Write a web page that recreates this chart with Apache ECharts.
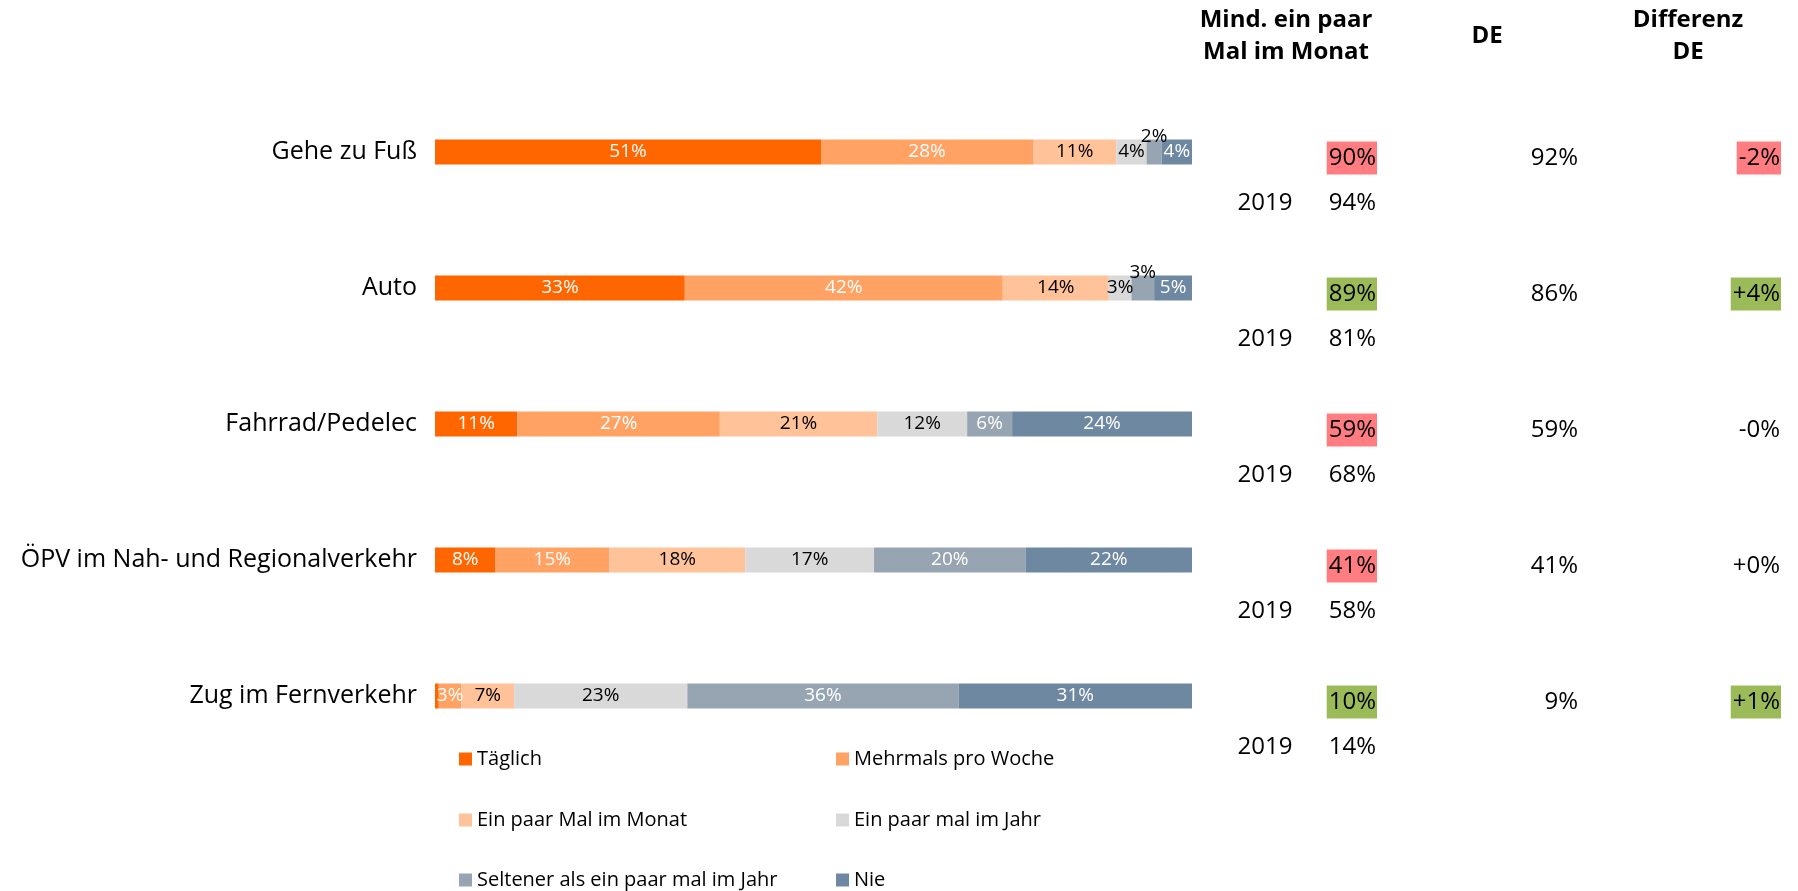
<!DOCTYPE html>
<html>
<head>
<meta charset="utf-8">
<script src="https://cdn.jsdelivr.net/npm/echarts@6/dist/echarts.min.js"></script>
<style>
  html, body { margin: 0; padding: 0; background: #fff; }
  #chart { width: 1798px; height: 891px; }
</style>
</head>
<body>
<div id="chart"></div>
<script>
const categories = ['Gehe zu Fuß', 'Auto', 'Fahrrad/Pedelec', 'ÖPV im Nah- und Regionalverkehr', 'Zug im Fernverkehr'];
const seriesNames = ['Täglich', 'Mehrmals pro Woche', 'Ein paar Mal im Monat', 'Ein paar mal im Jahr', 'Seltener als ein paar mal im Jahr', 'Nie'];

// shares in % per mode of transport
const daily = [51, 33, 11, 8, 0.5];
const weekly = [28, 42, 27, 15, 3];
const monthly = [11, 14, 21, 18, 7];
const yearly = [4, 3, 12, 17, 23];
const rarer = [2, 3, 6, 20, 36];
const never = [4, 5, 24, 22, 31];

// table on the right
const atLeastMonthly = [90, 89, 59, 41, 10];
const atLeastMonthly2019 = [94, 81, 68, 58, 14];
const germany = [92, 86, 59, 41, 9];
const diffGermany = ['-2%', '+4%', '-0%', '+0%', '+1%'];
const monthlyMark = ['down', 'up', 'down', 'down', 'up'];
const diffMark = ['down', 'up', '', '', 'up'];

// labels that sit above the bar: [row, series]
const labelsAbove = [[0, 4], [1, 4]];

const rows = [daily, weekly, monthly, yearly, rarer, never];
const colors = ['#FF6600', '#FFA264', '#FFC299', '#D9D9D9', '#97A4B1', '#6E88A2'];
const labelColors = ['#fff', '#fff', '#000', '#000', '#fff', '#fff'];
const markColors = { up: '#9BBB59', down: '#FF7C80', '': 'transparent' };
const FONT = 'Open Sans';

const rowSums = categories.map((c, i) => rows.reduce((s, r) => s + r[i], 0));

const chart = echarts.init(document.getElementById('chart'));

const barSeries = rows.map((r, s) => ({
  name: seriesNames[s],
  type: 'bar',
  stack: 'total',
  barWidth: 25,
  itemStyle: { color: colors[s] },
  label: {
    show: true,
    position: 'inside',
    color: labelColors[s],
    fontFamily: FONT,
    fontSize: 19,
    formatter: p => (r[p.dataIndex] < 1 ? '' : Math.round(r[p.dataIndex]) + '%'),
  },
  data: r.map((v, i) => {
    const item = { value: v / rowSums[i] * 100 };
    if (labelsAbove.some(a => a[0] === i && a[1] === s)) {
      item.label = { position: 'top', color: '#000', distance: -7 };
    }
    return item;
  }),
}));

const valueLabel = {
  show: true,
  position: 'inside',
  fontFamily: FONT,
  fontSize: 24,
  color: '#000',
};

function tableColumn(x, offsetY, align, texts, marks, boxed) {
  const label = Object.assign({}, valueLabel, { align: align, offset: [0, offsetY] });
  if (boxed) {
    Object.assign(label, { padding: [4, 1, 1, 2], lineHeight: 28 });
  }
  return {
    type: 'scatter',
    xAxisIndex: 1,
    yAxisIndex: 1,
    symbolSize: 0,
    silent: true,
    itemStyle: { opacity: 1 },
    label: label,
    data: texts.map((t, i) => {
      const item = { value: [x, i], label: { formatter: t } };
      if (marks) item.label.backgroundColor = markColors[marks[i]];
      return item;
    }),
  };
}

const tableSeries = [
  tableColumn(1377, 6, 'right', atLeastMonthly.map(v => v + '%'), monthlyMark, true),
  tableColumn(1376, 51, 'right', atLeastMonthly2019.map(v => v + '%')),
  tableColumn(1265, 51, 'center', categories.map(() => '2019')),
  tableColumn(1578, 6, 'right', germany.map(v => v + '%')),
  tableColumn(1781, 6, 'right', diffGermany, diffMark, true),
];

// one legend per entry, laid out as two columns of three
const legendPos = [[459, 749], [836, 749], [459, 810], [836, 810], [459, 870], [836, 870]];
const legends = seriesNames.map((n, k) => ({
  data: [n],
  left: legendPos[k][0],
  top: legendPos[k][1],
  padding: 0,
  icon: 'rect',
  itemWidth: 13,
  itemHeight: 13,
  selectedMode: false,
  textStyle: { fontFamily: FONT, fontSize: 20, color: '#000' },
}));

function header(text, x, y) {
  return {
    type: 'text',
    x: x,
    y: y,
    style: { text: text, font: 'bold 24px "Open Sans"', fill: '#000', align: 'center', verticalAlign: 'middle' },
  };
}

const option = {
  animation: false,
  color: colors,
  legend: legends,
  graphic: [
    header('Mind. ein paar', 1286, 20),
    header('Mal im Monat', 1286, 52),
    header('DE', 1487, 36),
    header('Differenz', 1688, 20),
    header('DE', 1688, 52),
  ],
  grid: [
    { left: 435, width: 757, top: 84, height: 680 },
    { left: 0, right: 0, top: 84, height: 680 },
  ],
  xAxis: [
    { type: 'value', min: 0, max: 100, show: false },
    { type: 'value', gridIndex: 1, min: 0, max: 1798, show: false },
  ],
  yAxis: [
    {
      type: 'category',
      data: categories,
      inverse: true,
      axisLine: { show: false },
      axisTick: { show: false },
      axisLabel: { fontFamily: FONT, fontSize: 25, color: '#000', margin: 18 },
    },
    { type: 'category', gridIndex: 1, data: categories, inverse: true, show: false },
  ],
  series: barSeries.concat(tableSeries),
};

chart.setOption(option);
</script>
</body>
</html>
